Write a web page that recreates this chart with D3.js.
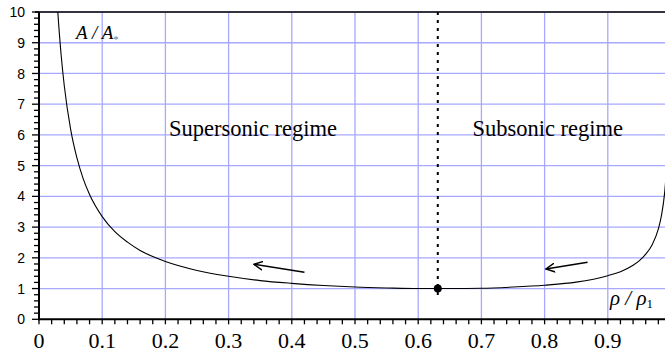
<!DOCTYPE html>
<html>
<head>
<meta charset="utf-8">
<script src="https://cdn.jsdelivr.net/npm/d3@7"></script>
<style>
  html, body { margin: 0; padding: 0; background: #fff; }
  svg { display: block; }
</style>
</head>
<body>
<svg id="chart" width="665" height="353"></svg>
<script>
// Isentropic area ratio A/A* against density ratio rho/rho1
const rhoRatio = [0.0295, 0.03, 0.035, 0.04, 0.05, 0.06, 0.07, 0.08, 0.1, 0.12, 0.14, 0.16, 0.18, 0.2,
  0.25, 0.3, 0.35, 0.4, 0.45, 0.5, 0.55, 0.6, 0.634, 0.65, 0.7, 0.75, 0.8, 0.85, 0.9, 0.92, 0.94,
  0.95, 0.96, 0.97, 0.98, 0.985, 0.99, 0.993];
const areaRatio = [10.09, 9.93, 8.61, 7.60, 6.19, 5.25, 4.57, 4.06, 3.34, 2.85, 2.51, 2.24, 2.04, 1.88,
  1.59, 1.40, 1.26, 1.17, 1.10, 1.05, 1.02, 1.00, 1.00, 1.00, 1.01, 1.05, 1.11, 1.21, 1.42, 1.55, 1.76,
  1.91, 2.12, 2.42, 2.94, 3.39, 4.13, 4.92];

// sonic point (throat)
const sonicPoint = [0.631, 1.0];
const sonicLineBottom = 0.72;

// direction arrows [x0, y0, x1, y1] (tail -> head)
const supersonicArrow = [0.42, 1.53, 0.34, 1.79];
const subsonicArrow = [0.868, 1.855, 0.802, 1.637];

const xTickValues = [0, 0.1, 0.2, 0.3, 0.4, 0.5, 0.6, 0.7, 0.8, 0.9];
const xTickLabels = ["0", "0.1", "0.2", "0.3", "0.4", "0.5", "0.6", "0.7", "0.8", "0.9"];
const yTickValues = [0, 1, 2, 3, 4, 5, 6, 7, 8, 9, 10];
const yTickLabels = ["0", "1", "2", "3", "4", "5", "6", "7", "8", "9", "10"];

const svg = d3.select("#chart");
const W = 665;
const x = d3.scaleLinear().domain([0, 1]).range([39, 671]);
const y = d3.scaleLinear().domain([0, 10]).range([319.3, 12]);

const serif = "'Liberation Serif', 'Times New Roman', serif";
const sans = "'Liberation Sans', Arial, sans-serif";
const gridColor = "#a8a8ff";

svg.append("defs").append("clipPath").attr("id", "plotClip")
  .append("rect").attr("x", x(0)).attr("y", y(10)).attr("width", W - x(0)).attr("height", y(0) - y(10));

svg.select("defs").append("marker")
  .attr("id", "arrowHead").attr("viewBox", "0 0 10 10")
  .attr("refX", 9).attr("refY", 5)
  .attr("markerWidth", 10).attr("markerHeight", 10)
  .attr("markerUnits", "userSpaceOnUse")
  .attr("orient", "auto")
  .append("path").attr("d", "M0,0.5 L9,5 L0,9.5")
  .attr("fill", "none").attr("stroke", "#000").attr("stroke-width", 1.4);

// grid
const grid = svg.append("g");
grid.selectAll("line.v").data([0.1, 0.2, 0.3, 0.4, 0.5, 0.6, 0.7, 0.8, 0.9])
  .join("line").attr("class", "v")
  .attr("x1", d => x(d)).attr("x2", d => x(d))
  .attr("y1", y(10)).attr("y2", y(0))
  .attr("stroke", gridColor).attr("stroke-width", 1.3);
grid.selectAll("line.h").data(yTickValues.filter(d => d > 0 && d < 10))
  .join("line").attr("class", "h")
  .attr("x1", x(0)).attr("x2", W)
  .attr("y1", d => y(d)).attr("y2", d => y(d))
  .attr("stroke", gridColor).attr("stroke-width", 1.3);

// top frame line
svg.append("line")
  .attr("x1", x(0) - 4).attr("x2", W).attr("y1", y(10)).attr("y2", y(10))
  .attr("stroke", "#333340").attr("stroke-width", 2);

// x axis
const xAxis = svg.append("g");
const xMinor = d3.range(0, 51).map(i => i * 0.02);
xAxis.selectAll("line.tick").data(xMinor).join("line").attr("class", "tick")
  .attr("x1", d => x(d)).attr("x2", d => x(d))
  .attr("y1", y(0)).attr("y2", y(0) + 5)
  .attr("stroke", "#000").attr("stroke-width", 1.3);
xAxis.append("line").attr("x1", x(0) - 1).attr("x2", W).attr("y1", y(0)).attr("y2", y(0))
  .attr("stroke", "#000").attr("stroke-width", 2);
xAxis.selectAll("text").data(xTickValues).join("text")
  .attr("x", d => x(d)).attr("y", 348)
  .attr("text-anchor", "middle")
  .attr("font-family", serif).attr("font-size", 22).attr("fill", "#000")
  .text((d, i) => xTickLabels[i]);

// y axis
const yAxis = svg.append("g");
const yMinor = d3.range(0, 51).map(i => i * 0.2);
yAxis.selectAll("line.tick").data(yMinor).join("line").attr("class", "tick")
  .attr("x1", x(0)).attr("x2", (d, i) => i % 5 === 0 ? x(0) - 7 : x(0) - 5)
  .attr("y1", d => y(d)).attr("y2", d => y(d))
  .attr("stroke", "#000").attr("stroke-width", 1.3);
yAxis.append("line").attr("x1", x(0)).attr("x2", x(0)).attr("y1", y(10)).attr("y2", y(0) + 1)
  .attr("stroke", "#000").attr("stroke-width", 2);
yAxis.selectAll("text").data(yTickValues).join("text")
  .attr("x", 25).attr("y", d => y(d)).attr("dy", "0.36em")
  .attr("text-anchor", "end")
  .attr("font-family", sans).attr("font-size", 14).attr("fill", "#000")
  .text((d, i) => yTickLabels[i]);

// region labels
svg.append("text").attr("x", 169).attr("y", 136)
  .attr("font-family", serif).attr("font-size", 22.5).attr("fill", "#000")
  .text("Supersonic regime");
svg.append("text").attr("x", 623).attr("y", 136).attr("text-anchor", "end")
  .attr("font-family", serif).attr("font-size", 22.5).attr("fill", "#000")
  .text("Subsonic regime");

// axis titles
const yTitle = svg.append("text").attr("x", 76).attr("y", 39)
  .attr("font-family", serif).attr("font-size", 19).attr("font-style", "italic").attr("fill", "#000");
yTitle.append("tspan").text("A / A");
yTitle.append("tspan").attr("dy", 4).attr("font-size", 11).attr("font-style", "normal")
  .attr("fill", "#777").text("*");

const xTitle = svg.append("text").attr("x", 610).attr("y", 305)
  .attr("font-family", serif).attr("font-size", 21).attr("font-style", "italic").attr("fill", "#000");
xTitle.append("tspan").text("ρ / ρ");
xTitle.append("tspan").attr("dy", 3).attr("font-size", 13).attr("font-style", "normal").text("1");

// curve
const pts = rhoRatio.map((r, i) => [r, areaRatio[i]]);
svg.append("path")
  .datum(pts)
  .attr("clip-path", "url(#plotClip)")
  .attr("d", d3.line().x(d => x(d[0])).y(d => y(d[1])).curve(d3.curveMonotoneX))
  .attr("fill", "none").attr("stroke", "#000").attr("stroke-width", 1.1);

// sonic line and point
svg.append("line")
  .attr("x1", x(sonicPoint[0])).attr("x2", x(sonicPoint[0]))
  .attr("y1", y(10)).attr("y2", y(sonicLineBottom))
  .attr("stroke", "#000").attr("stroke-width", 2).attr("stroke-dasharray", "3,5");
svg.append("circle")
  .attr("cx", x(sonicPoint[0])).attr("cy", y(sonicPoint[1])).attr("r", 4)
  .attr("fill", "#000");

// direction arrows
[supersonicArrow, subsonicArrow].forEach(a => {
  svg.append("line")
    .attr("x1", x(a[0])).attr("y1", y(a[1]))
    .attr("x2", x(a[2])).attr("y2", y(a[3]))
    .attr("stroke", "#000").attr("stroke-width", 1.6)
    .attr("marker-end", "url(#arrowHead)");
});
</script>
</body>
</html>
